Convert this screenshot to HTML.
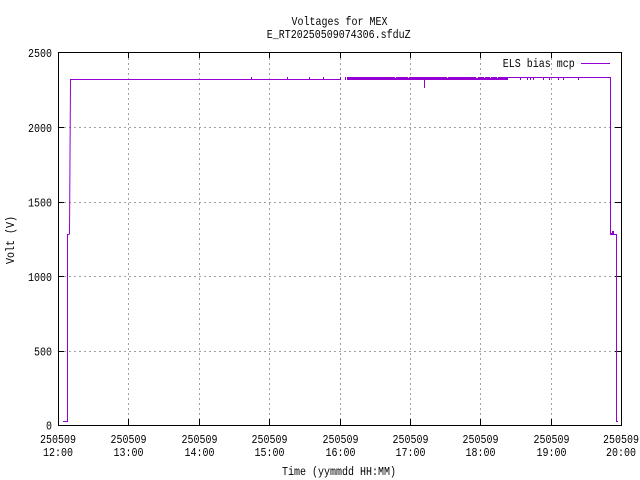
<!DOCTYPE html>
<html>
<head>
<meta charset="utf-8">
<style>
html,body{margin:0;padding:0;background:#fff;}
svg{display:block;}
text{font-family:"Liberation Mono","DejaVu Sans Mono",monospace;font-size:10px;fill:#000;}
</style>
</head>
<body>
<svg width="640" height="480" viewBox="0 0 640 480" xmlns="http://www.w3.org/2000/svg">
<rect x="0" y="0" width="640" height="480" fill="#fff"/>

<!-- grid -->
<g stroke="#a0a0a0" stroke-width="1" stroke-dasharray="2,3" shape-rendering="crispEdges" fill="none">
  <line x1="128.5" y1="53" x2="128.5" y2="425"/>
  <line x1="199.5" y1="53" x2="199.5" y2="425"/>
  <line x1="269.5" y1="53" x2="269.5" y2="425"/>
  <line x1="340.5" y1="53" x2="340.5" y2="425"/>
  <line x1="410.5" y1="53" x2="410.5" y2="425"/>
  <line x1="480.5" y1="53" x2="480.5" y2="425"/>
  <line x1="551.5" y1="53" x2="551.5" y2="425"/>
  <line x1="59" y1="127.5" x2="621" y2="127.5"/>
  <line x1="59" y1="202.5" x2="621" y2="202.5"/>
  <line x1="59" y1="276.5" x2="621" y2="276.5"/>
  <line x1="59" y1="351.5" x2="621" y2="351.5"/>
</g>

<!-- ticks -->
<g stroke="#000" stroke-width="1" shape-rendering="crispEdges">
  <line x1="128.5" y1="425" x2="128.5" y2="419"/><line x1="128.5" y1="52" x2="128.5" y2="58"/>
  <line x1="199.5" y1="425" x2="199.5" y2="419"/><line x1="199.5" y1="52" x2="199.5" y2="58"/>
  <line x1="269.5" y1="425" x2="269.5" y2="419"/><line x1="269.5" y1="52" x2="269.5" y2="58"/>
  <line x1="340.5" y1="425" x2="340.5" y2="419"/><line x1="340.5" y1="52" x2="340.5" y2="58"/>
  <line x1="410.5" y1="425" x2="410.5" y2="419"/><line x1="410.5" y1="52" x2="410.5" y2="58"/>
  <line x1="480.5" y1="425" x2="480.5" y2="419"/><line x1="480.5" y1="52" x2="480.5" y2="58"/>
  <line x1="551.5" y1="425" x2="551.5" y2="419"/><line x1="551.5" y1="52" x2="551.5" y2="58"/>
  <line x1="58" y1="127.5" x2="64" y2="127.5"/><line x1="621" y1="127.5" x2="615" y2="127.5"/>
  <line x1="58" y1="202.5" x2="64" y2="202.5"/><line x1="621" y1="202.5" x2="615" y2="202.5"/>
  <line x1="58" y1="276.5" x2="64" y2="276.5"/><line x1="621" y1="276.5" x2="615" y2="276.5"/>
  <line x1="58" y1="351.5" x2="64" y2="351.5"/><line x1="621" y1="351.5" x2="615" y2="351.5"/>
</g>

<!-- border -->
<rect x="58.5" y="52.5" width="563" height="373" fill="none" stroke="#000" stroke-width="1" shape-rendering="crispEdges"/>

<!-- data -->
<g stroke="#9400d3" stroke-width="1" fill="none" shape-rendering="crispEdges">
  <path d="M63,421.5 H67.5 V234.5 H69.5"/>
  <path d="M70,79.5 H341"/>
  <path d="M508,77.5 H610.5 V233.5 H613 M610,234.5 H616.5 V421.5 H618"/>
  <line x1="251.5" y1="77" x2="251.5" y2="80"/>
  <line x1="287.5" y1="77" x2="287.5" y2="80"/>
  <line x1="309.5" y1="77" x2="309.5" y2="80"/>
  <line x1="323.5" y1="77" x2="323.5" y2="80"/>
  <line x1="340.5" y1="77" x2="340.5" y2="80"/>
  <line x1="345.5" y1="77" x2="345.5" y2="80"/>
  <line x1="424.5" y1="79" x2="424.5" y2="88"/>
  <line x1="520.5" y1="77" x2="520.5" y2="80"/>
  <line x1="527.5" y1="77" x2="527.5" y2="80"/>
  <line x1="530.5" y1="77" x2="530.5" y2="80"/>
  <line x1="533.5" y1="77" x2="533.5" y2="80"/>
  <line x1="543.5" y1="77" x2="543.5" y2="80"/>
  <line x1="549.5" y1="77" x2="549.5" y2="80"/>
  <line x1="558.5" y1="77" x2="558.5" y2="80"/>
  <line x1="563.5" y1="77" x2="563.5" y2="80"/>
  <line x1="578.5" y1="77" x2="578.5" y2="80"/>
</g>
<line x1="69.5" y1="234" x2="70.5" y2="79.5" stroke="#9400d3" stroke-width="1"/>
<rect x="347" y="77" width="161" height="3" fill="#9400d3"/>
<g fill="#fff">
  <rect x="395" y="77" width="1" height="1"/>
  <rect x="408" y="77" width="1" height="1"/>
  <rect x="447" y="77" width="1" height="1"/>
  <rect x="476" y="77" width="2" height="1"/>
  <rect x="484" y="77" width="1" height="1"/>
  <rect x="490" y="77" width="1" height="1"/>
  <rect x="497" y="77" width="1" height="1"/>
</g>
<rect x="612" y="231" width="2" height="3" fill="#9400d3"/>

<!-- legend -->
<text transform="translate(574.7,67) scale(1,1.2)" text-anchor="end">ELS bias mcp</text>
<line x1="581" y1="63.5" x2="610" y2="63.5" stroke="#9400d3" stroke-width="1" shape-rendering="crispEdges"/>

<!-- title -->
<text transform="translate(339.5,25) scale(1,1.2)" text-anchor="middle">Voltages for MEX</text>
<text transform="translate(338.7,38) scale(1,1.2)" text-anchor="middle">E_RT20250509074306.sfduZ</text>

<!-- y tick labels -->
<text transform="translate(52,57) scale(1,1.2)" text-anchor="end">2500</text>
<text transform="translate(52,132) scale(1,1.2)" text-anchor="end">2000</text>
<text transform="translate(52,206.5) scale(1,1.2)" text-anchor="end">1500</text>
<text transform="translate(52,281) scale(1,1.2)" text-anchor="end">1000</text>
<text transform="translate(52,355.5) scale(1,1.2)" text-anchor="end">500</text>
<text transform="translate(52,429.5) scale(1,1.2)" text-anchor="end">0</text>

<!-- x tick labels -->
<g text-anchor="middle">
  <text transform="translate(58,443) scale(1,1.2)">250509</text>
  <text transform="translate(58,456) scale(1,1.2)">12:00</text>
  <text transform="translate(128.5,443) scale(1,1.2)">250509</text>
  <text transform="translate(128.5,456) scale(1,1.2)">13:00</text>
  <text transform="translate(199.5,443) scale(1,1.2)">250509</text>
  <text transform="translate(199.5,456) scale(1,1.2)">14:00</text>
  <text transform="translate(269.5,443) scale(1,1.2)">250509</text>
  <text transform="translate(269.5,456) scale(1,1.2)">15:00</text>
  <text transform="translate(340.5,443) scale(1,1.2)">250509</text>
  <text transform="translate(340.5,456) scale(1,1.2)">16:00</text>
  <text transform="translate(410.5,443) scale(1,1.2)">250509</text>
  <text transform="translate(410.5,456) scale(1,1.2)">17:00</text>
  <text transform="translate(480.5,443) scale(1,1.2)">250509</text>
  <text transform="translate(480.5,456) scale(1,1.2)">18:00</text>
  <text transform="translate(551.5,443) scale(1,1.2)">250509</text>
  <text transform="translate(551.5,456) scale(1,1.2)">19:00</text>
  <text transform="translate(621,443) scale(1,1.2)">250509</text>
  <text transform="translate(621,456) scale(1,1.2)">20:00</text>
</g>

<!-- axis labels -->
<text transform="translate(339,475) scale(1,1.2)" text-anchor="middle">Time (yymmdd HH:MM)</text>
<text transform="translate(14,240) rotate(-90) scale(1,1.2)" text-anchor="middle">Volt (V)</text>
</svg>
</body>
</html>
